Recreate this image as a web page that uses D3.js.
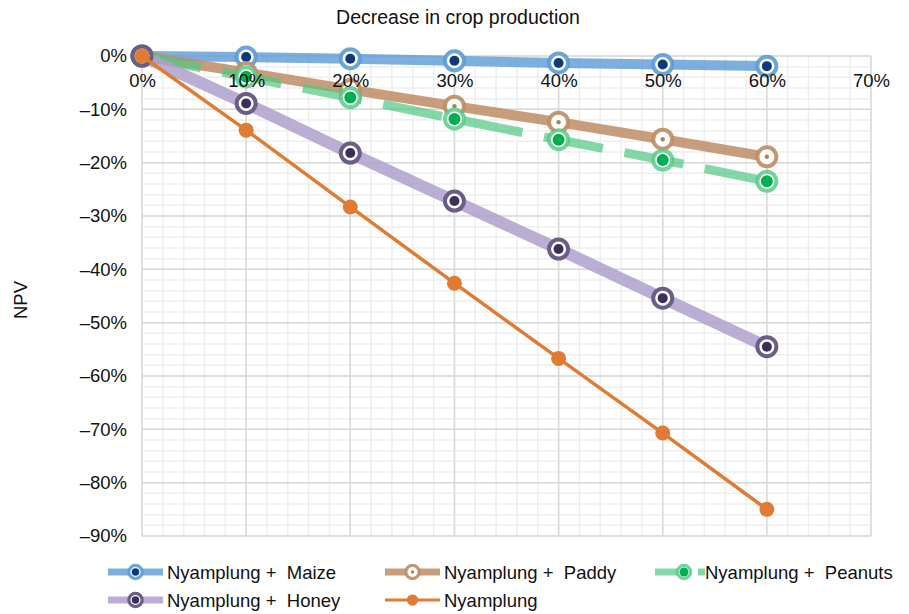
<!DOCTYPE html>
<html>
<head>
<meta charset="utf-8">
<script src="https://cdn.jsdelivr.net/npm/d3@7"></script>
<style>
  body { margin: 0; background: #fff; }
  svg text { font-family: "Liberation Sans", Arial, sans-serif; fill: #111; white-space: pre; }
</style>
</head>
<body>
<div class="viz"></div>
<script>
// decrease in crop production (x) and NPV change (y) per series
var decrease = [0, 0.1, 0.2, 0.3, 0.4, 0.5, 0.6];
var maize = [0, -0.002, -0.005, -0.009, -0.013, -0.016, -0.019];
var paddy = [0, -0.031, -0.063, -0.094, -0.124, -0.156, -0.189];
var peanuts = [0, -0.039, -0.078, -0.118, -0.157, -0.195, -0.235];
var honey = [0, -0.089, -0.182, -0.272, -0.362, -0.454, -0.545];
var nyamplung = [0, -0.139, -0.283, -0.426, -0.567, -0.707, -0.85];

var xTicks = [0, 0.1, 0.2, 0.3, 0.4, 0.5, 0.6, 0.7];
var yTicks = [0, -0.1, -0.2, -0.3, -0.4, -0.5, -0.6, -0.7, -0.8, -0.9];
var seriesNames = ["Nyamplung +  Maize", "Nyamplung +  Paddy", "Nyamplung +  Peanuts", "Nyamplung +  Honey", "Nyamplung"];

var width = 909, height = 614;
var margin = {top: 56, left: 142, right: 38, bottom: 78};
var fs = "18.5px";

var svg = d3.select('.viz').append('svg')
    .attr('width', width)
    .attr('height', height);

var x = d3.scaleLinear().domain([0, 0.7]).range([margin.left, width - margin.right]);
var y = d3.scaleLinear().domain([-0.9, 0]).range([height - margin.bottom, margin.top]);

var pct = function(d){
    var v = Math.round(d * 100);
    return (v < 0 ? "\u2013" + (-v) : v) + "%";
}

// minor grid (every 2%)
var minorX = d3.range(0, 0.7001, 0.02);
var minorY = d3.range(-0.9, 0.0001, 0.02);
var grid = svg.append("g");
grid.selectAll(".mx").data(minorX).enter().append("line")
    .attr("x1", d => x(d)).attr("x2", d => x(d))
    .attr("y1", y(0)).attr("y2", y(-0.9))
    .attr("stroke", "#eeeeee").attr("stroke-width", 1.5);
grid.selectAll(".my").data(minorY).enter().append("line")
    .attr("x1", x(0)).attr("x2", x(0.7))
    .attr("y1", d => y(d)).attr("y2", d => y(d))
    .attr("stroke", "#eeeeee").attr("stroke-width", 1.5);
// major grid
grid.selectAll(".MX").data(xTicks).enter().append("line")
    .attr("x1", d => x(d)).attr("x2", d => x(d))
    .attr("y1", y(0)).attr("y2", y(-0.9))
    .attr("stroke", "#d9d9d9").attr("stroke-width", 1.5);
grid.selectAll(".MY").data(yTicks).enter().append("line")
    .attr("x1", x(0)).attr("x2", x(0.7))
    .attr("y1", d => y(d)).attr("y2", d => y(d))
    .attr("stroke", "#d9d9d9").attr("stroke-width", 1.5);

var yAxis = svg.append("g")
    .attr("transform", "translate(" + (x(0) - 15) + ",0)")
    .call(d3.axisLeft(y).tickValues(yTicks).tickFormat(pct).tickSize(0).tickPadding(0));
yAxis.select(".domain").remove();
yAxis.selectAll("text").style("font-size", fs).attr("fill", "#111");

svg.append("text")
    .attr("x", 458).attr("y", 24)
    .attr("text-anchor", "middle")
    .style("font-size", "19.5px")
    .text("Decrease in crop production");

svg.append("text")
    .attr("transform", "translate(27,300) rotate(-90)")
    .attr("text-anchor", "middle")
    .style("font-size", fs)
    .text("NPV");

var series = [
    {name: seriesNames[0], values: maize, line: "rgba(91,155,213,0.8)", lw: 10, dash: null,
     ring: "rgba(91,155,213,0.9)", dot: "#0c3a7d", dotR: 5, ringR: 9.5, ringW: 4},
    {name: seriesNames[1], values: paddy, line: "rgba(190,140,100,0.85)", lw: 10, dash: null,
     ring: "rgba(190,140,100,0.9)", dot: "#b47f56", dotR: 2.2, ringR: 9.5, ringW: 4},
    {name: seriesNames[2], values: peanuts, line: "rgba(80,200,130,0.7)", lw: 9, dash: "60,22",
     ring: "rgba(80,200,130,0.8)", dot: "#00b050", dotR: 6, ringR: 9.5, ringW: 4},
    {name: seriesNames[3], values: honey, line: "rgba(175,160,205,0.85)", lw: 12, dash: null,
     ring: "#6a5d86", dot: "#3c2e5c", dotR: 5, ringR: 9.5, ringW: 4},
    {name: seriesNames[4], values: nyamplung, line: "#e07b33", lw: 3.5, dash: null,
     ring: null, dot: "#e07b33", dotR: 7.5, ringR: 0, ringW: 0}
];

var line = d3.line()
    .x((d, i) => x(decrease[i]))
    .y(d => y(d));

series.forEach(function(s){
    var g = svg.append("g");
    g.append("path")
        .datum(s.values)
        .attr("d", line)
        .attr("fill", "none")
        .attr("stroke", s.line)
        .attr("stroke-width", s.lw)
        .attr("stroke-dasharray", s.dash);
    drawMarkers(g, s, s.values.map((v, i) => [x(decrease[i]), y(v)]));
});

function drawMarkers(g, s, pts){
    if (s.ring){
        g.selectAll(".ring").data(pts).enter().append("circle")
            .attr("cx", d => d[0]).attr("cy", d => d[1])
            .attr("r", s.ringR)
            .attr("fill", "#fff")
            .attr("stroke", s.ring)
            .attr("stroke-width", s.ringW);
    }
    g.selectAll(".dot").data(pts).enter().append("circle")
        .attr("cx", d => d[0]).attr("cy", d => d[1])
        .attr("r", s.dotR)
        .attr("fill", s.dot);
}

// x axis labels sit on top of the series
var xAxis = svg.append("g")
    .attr("transform", "translate(0," + y(0) + ")")
    .call(d3.axisBottom(x).tickValues(xTicks).tickFormat(pct).tickSize(0).tickPadding(18));
xAxis.select(".domain").remove();
xAxis.selectAll("text").style("font-size", fs).attr("fill", "#111");

// legend
var legendPos = [[108, 572], [385, 572], [655, 572], [108, 600], [385, 600]];
series.forEach(function(s, i){
    var lx = legendPos[i][0], ly = legendPos[i][1];
    var lg = svg.append("g");
    var len = 55;
    if (s.dash){
        lg.append("line")
            .attr("x1", lx).attr("x2", lx + 36).attr("y1", ly).attr("y2", ly)
            .attr("stroke", s.line).attr("stroke-width", 7);
        lg.append("line")
            .attr("x1", lx + 43).attr("x2", lx + 50).attr("y1", ly).attr("y2", ly)
            .attr("stroke", s.line).attr("stroke-width", 7);
    } else {
        lg.append("line")
            .attr("x1", lx).attr("x2", lx + len).attr("y1", ly).attr("y2", ly)
            .attr("stroke", s.line).attr("stroke-width", s.lw > 5 ? 7 : 3);
    }
    var mx = s.dash ? lx + 29 : lx + len / 2;
    var small = {ringR: s.ringR * 0.7, ringW: s.ringW * 0.8, dotR: s.dotR * 0.75, ring: s.ring, dot: s.dot};
    drawMarkers(lg, small, [[mx, ly]]);
    lg.append("text")
        .attr("x", lx + (s.dash ? 50 : 59)).attr("y", ly + 7)
        .style("font-size", fs)
        .text(s.name);
});
</script>
</body>
</html>
